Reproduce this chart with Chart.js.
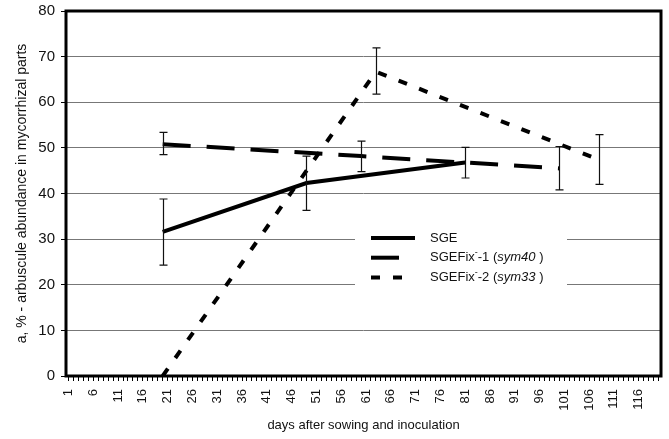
<!DOCTYPE html>
<html>
<head>
<meta charset="utf-8">
<script src="https://cdn.jsdelivr.net/npm/chart.js@4"></script>
<style>
  body { margin: 0; background: #fff; }
</style>
</head>
<body>
<canvas id="arbChart" width="669" height="439"></canvas>
<script>
// days on the x axis (category labels 1..120)
const days = [];
for (let d = 1; d <= 120; d++) days.push(String(d));

// SGE
const sgeDays = [20, 49, 81];
const sgeValues = [31.6, 42.3, 46.8];
const sgeLow = [24.3, 36.3, 43.4];
const sgeHigh = [38.8, 48.2, 50.1];

// SGEFix-1 (sym40)
const fix1Days = [20, 60, 100];
const fix1Values = [50.8, 48.2, 45.5];
const fix1Low = [48.5, 44.8, 40.8];
const fix1High = [53.4, 51.5, 50.3];

// SGEFix-2 (sym33)
const fix2Days = [20, 63, 108];
const fix2Values = [0, 66.7, 47.4];
const fix2Low = [null, 61.8, 42.0];
const fix2High = [null, 71.9, 52.9];

const yTicks = [0, 10, 20, 30, 40, 50, 60, 70, 80];

function points(xs, ys) {
    return xs.map((d, i) => ({ x: String(d), y: ys[i] }));
}

const FONT = '"Liberation Sans", Arial, sans-serif';

// error bars, frame and legend
const extras = {
    id: 'extras',
    afterDatasetsDraw(chart) {
        const ctx = chart.ctx;
        const xs = chart.scales.x, ys = chart.scales.y;
        const area = chart.chartArea;

        // error bars
        const bars = [
            [sgeDays, sgeLow, sgeHigh],
            [fix1Days, fix1Low, fix1High],
            [fix2Days, fix2Low, fix2High]
        ];
        ctx.save();
        ctx.strokeStyle = '#111';
        ctx.lineWidth = 1.2;
        bars.forEach(([dd, lo, hi]) => {
            dd.forEach((d, i) => {
                if (lo[i] == null) return;
                const px = Math.round(xs.getPixelForValue(days.indexOf(String(d)))) + 0.5;
                const y1 = ys.getPixelForValue(lo[i]);
                const y2 = ys.getPixelForValue(hi[i]);
                ctx.beginPath();
                ctx.moveTo(px, y1); ctx.lineTo(px, y2);
                ctx.moveTo(px - 4, y1); ctx.lineTo(px + 4, y1);
                ctx.moveTo(px - 4, y2); ctx.lineTo(px + 4, y2);
                ctx.stroke();
            });
        });

        // plot frame
        ctx.strokeStyle = '#000';
        ctx.lineWidth = 3;
        ctx.strokeRect(area.left, area.top, area.right - area.left, area.bottom - area.top);

        // legend
        const lx = area.left + 289, ly = area.top + 215;
        ctx.fillStyle = '#fff';
        ctx.fillRect(lx, ly, 212, 66);
        const items = [
            { ds: chart.data.datasets[0], parts: [['SGE', '']] },
            { ds: chart.data.datasets[1], parts: [['SGEFix', ''], ['-', 'sup'], ['-1 (', ''], ['sym40', 'italic'], [' )', '']] },
            { ds: chart.data.datasets[2], parts: [['SGEFix', ''], ['-', 'sup'], ['-2 (', ''], ['sym33', 'italic'], [' )', '']] }
        ];
        items.forEach((it, k) => {
            const y = ly + 12 + k * 19.7;
            ctx.strokeStyle = '#000';
            ctx.lineWidth = 4;
            ctx.lineCap = 'butt';
            ctx.setLineDash(it.ds.borderDash || []);
            ctx.beginPath();
            ctx.moveTo(lx + 16, y); ctx.lineTo(lx + 60, y);
            ctx.stroke();
            ctx.setLineDash([]);
            let tx = lx + 75;
            ctx.fillStyle = '#111';
            ctx.textBaseline = 'middle';
            it.parts.forEach(([t, st]) => {
                if (st === 'sup') {
                    ctx.font = '9px ' + FONT;
                    ctx.fillText(t, tx, y - 5);
                } else {
                    ctx.font = (st === 'italic' ? 'italic ' : '') + '13px ' + FONT;
                    ctx.fillText(t, tx, y);
                }
                tx += ctx.measureText(t).width;
            });
        });
        ctx.restore();
    }
};

const ctx = document.getElementById('arbChart').getContext('2d');
const chart = new Chart(ctx, {
    type: 'line',
    data: {
        labels: days,
        datasets: [{
            label: 'SGE',
            data: points(sgeDays, sgeValues),
            borderColor: '#000',
            borderWidth: 4,
            borderDash: []
        }, {
            label: 'SGEFix-1 (sym40)',
            data: points(fix1Days, fix1Values),
            borderColor: '#000',
            borderWidth: 4,
            borderDash: [28, 16]
        }, {
            label: 'SGEFix-2 (sym33)',
            data: points(fix2Days, fix2Values),
            borderColor: '#000',
            borderWidth: 4,
            borderDash: [9, 13]
        }]
    },
    options: {
        responsive: false,
        animation: false,
        layout: { padding: { left: 0, right: 8, top: 11, bottom: 0 } },
        elements: {
            point: { radius: 0 },
            line: { tension: 0, fill: false, borderCapStyle: 'butt' }
        },
        plugins: {
            legend: { display: false },
            tooltip: { enabled: false }
        },
        scales: {
            x: {
                type: 'category',
                offset: true,
                border: { display: false },
                grid: { drawOnChartArea: false, drawTicks: true, tickLength: 5, tickColor: '#000' },
                ticks: {
                    autoSkip: false,
                    minRotation: 90,
                    maxRotation: 90,
                    padding: 8,
                    color: '#111',
                    font: { family: FONT, size: 13 },
                    callback: (v, i) => (i % 5 === 0 ? days[i] : '')
                },
                title: {
                    display: true,
                    text: 'days after sowing and inoculation',
                    color: '#111',
                    font: { family: FONT, size: 13 },
                    padding: { top: 0, bottom: 6 }
                },
                afterFit: s => {
                    s.height = 63;
                    s.paddingLeft = 0;
                    s.paddingRight = 0;
                }
            },
            y: {
                min: 0,
                max: 80,
                border: { display: false },
                afterBuildTicks: s => { s.ticks = yTicks.map(v => ({ value: v })); },
                grid: { color: '#777', lineWidth: 1, tickLength: 5, tickColor: '#000' },
                ticks: {
                    padding: 6,
                    color: '#111',
                    font: { family: FONT, size: 15 }
                },
                title: {
                    display: true,
                    text: 'a, % - arbuscule abundance in mycorrhizal parts',
                    color: '#111',
                    font: { family: FONT, size: 14 },
                    padding: { top: 14, bottom: 0 }
                },
                afterFit: s => {
                    s.width = 66;
                    s.paddingTop = 0;
                    s.paddingBottom = 0;
                }
            }
        }
    },
    plugins: [extras]
});
</script>
</body>
</html>
